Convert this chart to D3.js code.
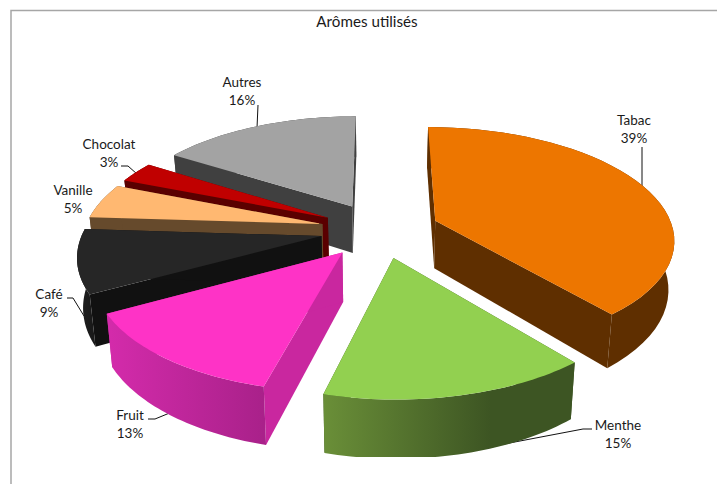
<!DOCTYPE html>
<html><head><meta charset="utf-8">
<script src="https://cdn.jsdelivr.net/npm/d3@7/dist/d3.min.js"></script>
<style>html,body{margin:0;padding:0;background:#fff}svg{display:block}text{font-family:Lato,"Open Sans",sans-serif;fill:#1a1a1a}</style>
</head><body><div id="c"></div>
<script>
const title = "Arômes utilisés";
const categories = ["Tabac","Menthe","Fruit","Café","Vanille","Chocolat","Autres"];
const values = [39,15,13,9,5,3,16];
const topColors = ["#ed7600","#92d050","#fe33c6","#262626","#ffb871","#c00000","#a3a3a3"];
const faceColors = ["#5f2f00","#3d5523","#c9279f","#111111","#664a2c","#5a0000","#404040"];
const wallLeft = ["#5f2f00","#6a8f38","#d42bab","#1f1f1f","#664a2c","#5a0000","#404040"];
const wallRight = ["#5f2f00","#3d5523","#a9218a","#1a1a1a","#664a2c","#5a0000","#404040"];
const drawOrder = ["Autres","Chocolat","Vanille","Café","Tabac","Fruit","Menthe"];
const labelPos = {
  "Tabac":[634,125], "Menthe":[618,430], "Fruit":[130,420], "Café":[49,299],
  "Vanille":[73,195], "Chocolat":[109,149], "Autres":[242,87]
};
const leaders = {
  "Tabac":[[642,147],[642,190]],
  "Menthe":[[592,429],[583,429],[457,453]],
  "Fruit":[[148,419],[155,419],[172,412]],
  "Café":[[67,298],[73,298],[84,316]],
  "Chocolat":[[121,166],[128,166],[137,174]],
  "Autres":[[258,105],[257,128]]
};

const W=717,H=484;
const cx=380,cy=230,rx=238,ky=110.5,persp=0.152,explode=0.25,depth=48,shrink=0.98,clipBottom=457;
const svg=d3.select("#c").append("svg").attr("width",W).attr("height",H);
const defs=svg.append("defs");
defs.append("clipPath").attr("id","plot").append("rect").attr("x",0).attr("y",0).attr("width",W).attr("height",clipBottom);

// frame
svg.append("path").attr("d",d3.line()([[11,484],[11,10.5],[717,10.5]]))
  .attr("fill","none").attr("stroke","#a6a6a6").attr("stroke-width",1.5);

const line=d3.line();

// leaders sit behind the slices
Object.keys(leaders).forEach(k=>{
  svg.append("path").attr("d",line(leaders[k])).attr("fill","none").attr("stroke","#111").attr("stroke-width",1);
});

const arcs=d3.pie().sort(null).value(d=>d)(values);
const xScale=d3.scaleLinear().domain([0,1]).range([0,rx]);
const yScale=d3.scaleLinear().domain([0,1]).range([0,ky]);
const scaleAt=y=>1/(1-persp*y);
const projTop=(x,y)=>{const s=scaleAt(y);return [cx+xScale(x)*s,cy+yScale(y)*s];};
const projBot=(x,y)=>{const s=scaleAt(y);return [cx+xScale(x)*s*shrink,cy+yScale(y)*s+depth*s];};
const pie3d=svg.append("g").attr("clip-path","url(#plot)");

drawOrder.forEach(name=>{
  const i=categories.indexOf(name);
  const a=arcs[i];
  const mid=(a.startAngle+a.endAngle)/2;
  const ox=explode*Math.sin(mid), oy=-explode*Math.cos(mid);
  const steps=d3.range(0,41).map(k=>a.startAngle+(a.endAngle-a.startAngle)*k/40);
  const rim=steps.map(t=>[ox+Math.sin(t),oy-Math.cos(t)]);
  const topRim=rim.map(p=>projTop(p[0],p[1]));
  const botRim=rim.map(p=>projBot(p[0],p[1]));
  const apexT=projTop(ox,oy), apexB=projBot(ox,oy);
  const g=pie3d.append("g").attr("class","slice");
  const xs=topRim.map(p=>p[0]);
  const gid="wall"+i;
  const grad=defs.append("linearGradient").attr("id",gid).attr("gradientUnits","userSpaceOnUse")
    .attr("x1",d3.min(xs)).attr("x2",name==="Menthe"?490:d3.max(xs)).attr("y1",0).attr("y2",0);
  grad.append("stop").attr("offset",0).attr("stop-color",wallLeft[i]);
  grad.append("stop").attr("offset",1).attr("stop-color",wallRight[i]);
  // cut faces, then the outer wall, then the top
  const first=0,last=rim.length-1;
  const fs=[[topRim[first],apexT,apexB,botRim[first]],[topRim[last],apexT,apexB,botRim[last]]];
  fs.forEach(f=>g.append("path").attr("d",line(f)+"Z").attr("fill",faceColors[i]));
  g.append("path").attr("d",line(topRim.concat(botRim.slice().reverse()))+"Z").attr("fill",`url(#${gid})`);
  g.append("path").attr("d",line([apexT].concat(topRim))+"Z").attr("fill",topColors[i]);
});

// labels
categories.forEach((c,i)=>{
  const p=labelPos[c];
  const t=svg.append("text").attr("text-anchor","middle").attr("font-size",13.5);
  t.append("tspan").attr("x",p[0]).attr("y",p[1]).text(c);
  t.append("tspan").attr("x",p[0]).attr("y",p[1]+18).text(values[i]+"%");
});
svg.append("text").attr("x",367).attr("y",27).attr("text-anchor","middle").attr("font-size",15.2).text(title);
</script></body></html>
